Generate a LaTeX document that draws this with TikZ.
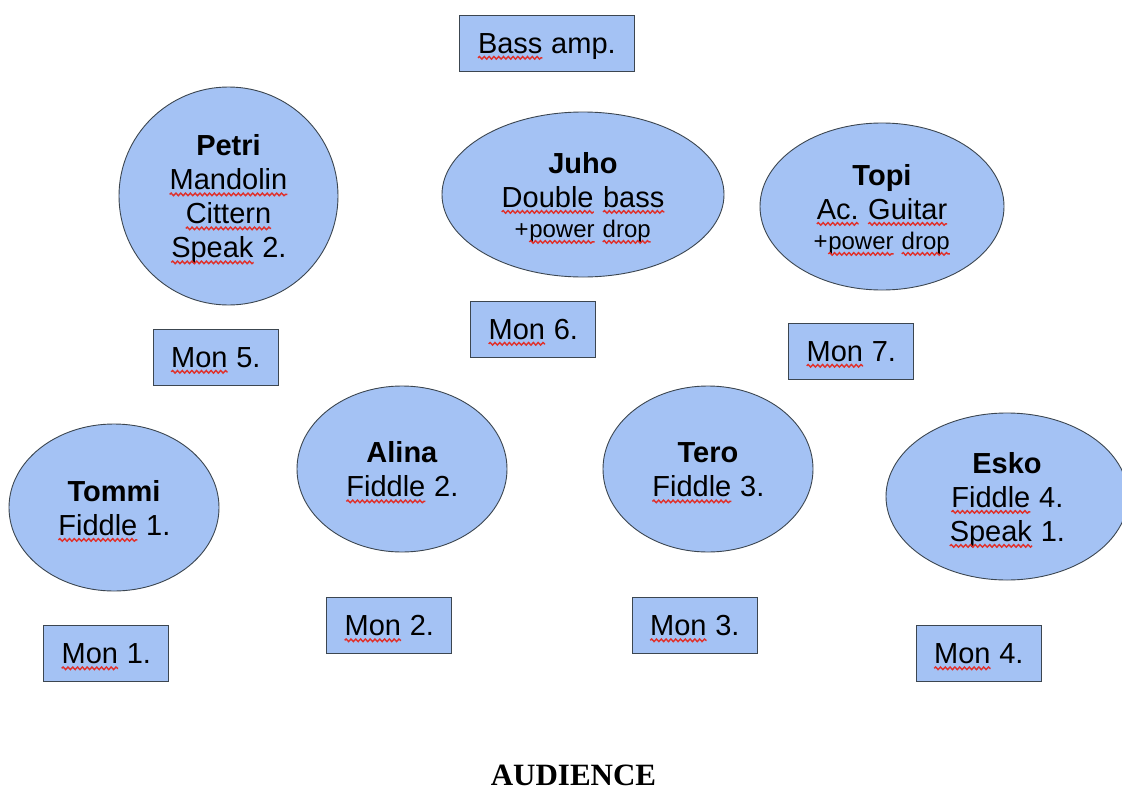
\documentclass[tikz,border=0pt]{standalone}
\usepackage{fontspec}
\setmainfont{Liberation Sans}
\newfontfamily\audfont{Liberation Serif}
\usetikzlibrary{shapes.geometric,decorations.pathmorphing}
\definecolor{fillblue}{HTML}{A4C2F4}
\definecolor{edgegray}{HTML}{3C4650}
\definecolor{squig}{HTML}{E0302A}
\newcommand\sq[1]{\tikz[baseline=(sqw.base)]{\node[rectangle,draw=none,fill=none,font={},inner sep=0pt,outer sep=0pt,minimum width=0pt,minimum height=0pt,text height=,text depth=,anchor=base] (sqw) {#1};\draw[squig,line width=1.4pt,decorate,decoration={snake,amplitude=1.3pt,segment length=4.8pt}] ([yshift=-4.8pt]sqw.base west) -- ([yshift=-4.8pt]sqw.base east);}}
\newcommand\smallline{\fontsize{24}{27}\selectfont}
\newcommand\toplift{\rule{0pt}{28pt}}
\tikzset{
  person/.style={ellipse, draw=edgegray, fill=fillblue, line width=0.9pt, inner sep=0pt, align=center, font=\fontsize{29}{34}\selectfont},
  monbox/.style={rectangle, draw=edgegray, fill=fillblue, line width=0.9pt, inner sep=0pt, minimum width=125pt, minimum height=56pt, text height=21pt, text depth=1pt, font=\fontsize{29}{34}\selectfont},
  audlabel/.style={font=\audfont\bfseries\fontsize{31}{36}\selectfont, inner sep=0pt, anchor=base},
}
\begin{document}
\begin{tikzpicture}[x=1pt,y=-1pt]
\path[use as bounding box, fill=white] (0,0) rectangle (1122,787);
% top row
\node[monbox, minimum width=175pt] (bass) at (546.5,43) {\sq{Bass} amp.};
\node[person, minimum width=219pt, minimum height=218pt] (petri) at (228.5,196)
  {\toplift\textbf{Petri}\\ \sq{Mandolin}\\ \sq{Cittern}\\ \sq{Speak} 2.};
\node[person, minimum width=282pt, minimum height=165pt] (juho) at (583,194.5)
  {\toplift\textbf{Juho}\\ \sq{Double} \sq{bass}\\[-4pt] \smallline +\sq{power} \sq{drop}};
\node[person, minimum width=244pt, minimum height=167pt] (topi) at (882,206.5)
  {\toplift\textbf{Topi}\\ \sq{Ac.} \sq{Guitar}\\[-4pt] \smallline +\sq{power} \sq{drop}};
% monitors back row
\node[monbox] (mon5) at (215.5,357) {\sq{Mon} 5.};
\node[monbox] (mon6) at (533,329) {\sq{Mon} 6.};
\node[monbox] (mon7) at (851,351) {\sq{Mon} 7.};
% front row
\node[person, minimum width=210pt, minimum height=167pt] (tommi) at (114,507.5)
  {\toplift\textbf{Tommi}\\ \sq{Fiddle} 1.};
\node[person, minimum width=210pt, minimum height=166pt] (alina) at (402,469)
  {\toplift\textbf{Alina}\\ \sq{Fiddle} 2.};
\node[person, minimum width=210pt, minimum height=166pt] (tero) at (708,469)
  {\toplift\textbf{Tero}\\ \sq{Fiddle} 3.};
\node[person, minimum width=242pt, minimum height=167pt] (esko) at (1007,496.5)
  {\toplift\textbf{Esko}\\ \sq{Fiddle} 4.\\ \sq{Speak} 1.};
% monitors front row
\node[monbox] (mon1) at (106,653.5) {\sq{Mon} 1.};
\node[monbox] (mon2) at (389,625.5) {\sq{Mon} 2.};
\node[monbox] (mon3) at (694.5,625.5) {\sq{Mon} 3.};
\node[monbox] (mon4) at (978.5,653.5) {\sq{Mon} 4.};
% audience
\node[audlabel] (aud) at (573.5,785.5) {AUDIENCE};
\end{tikzpicture}
\end{document}
